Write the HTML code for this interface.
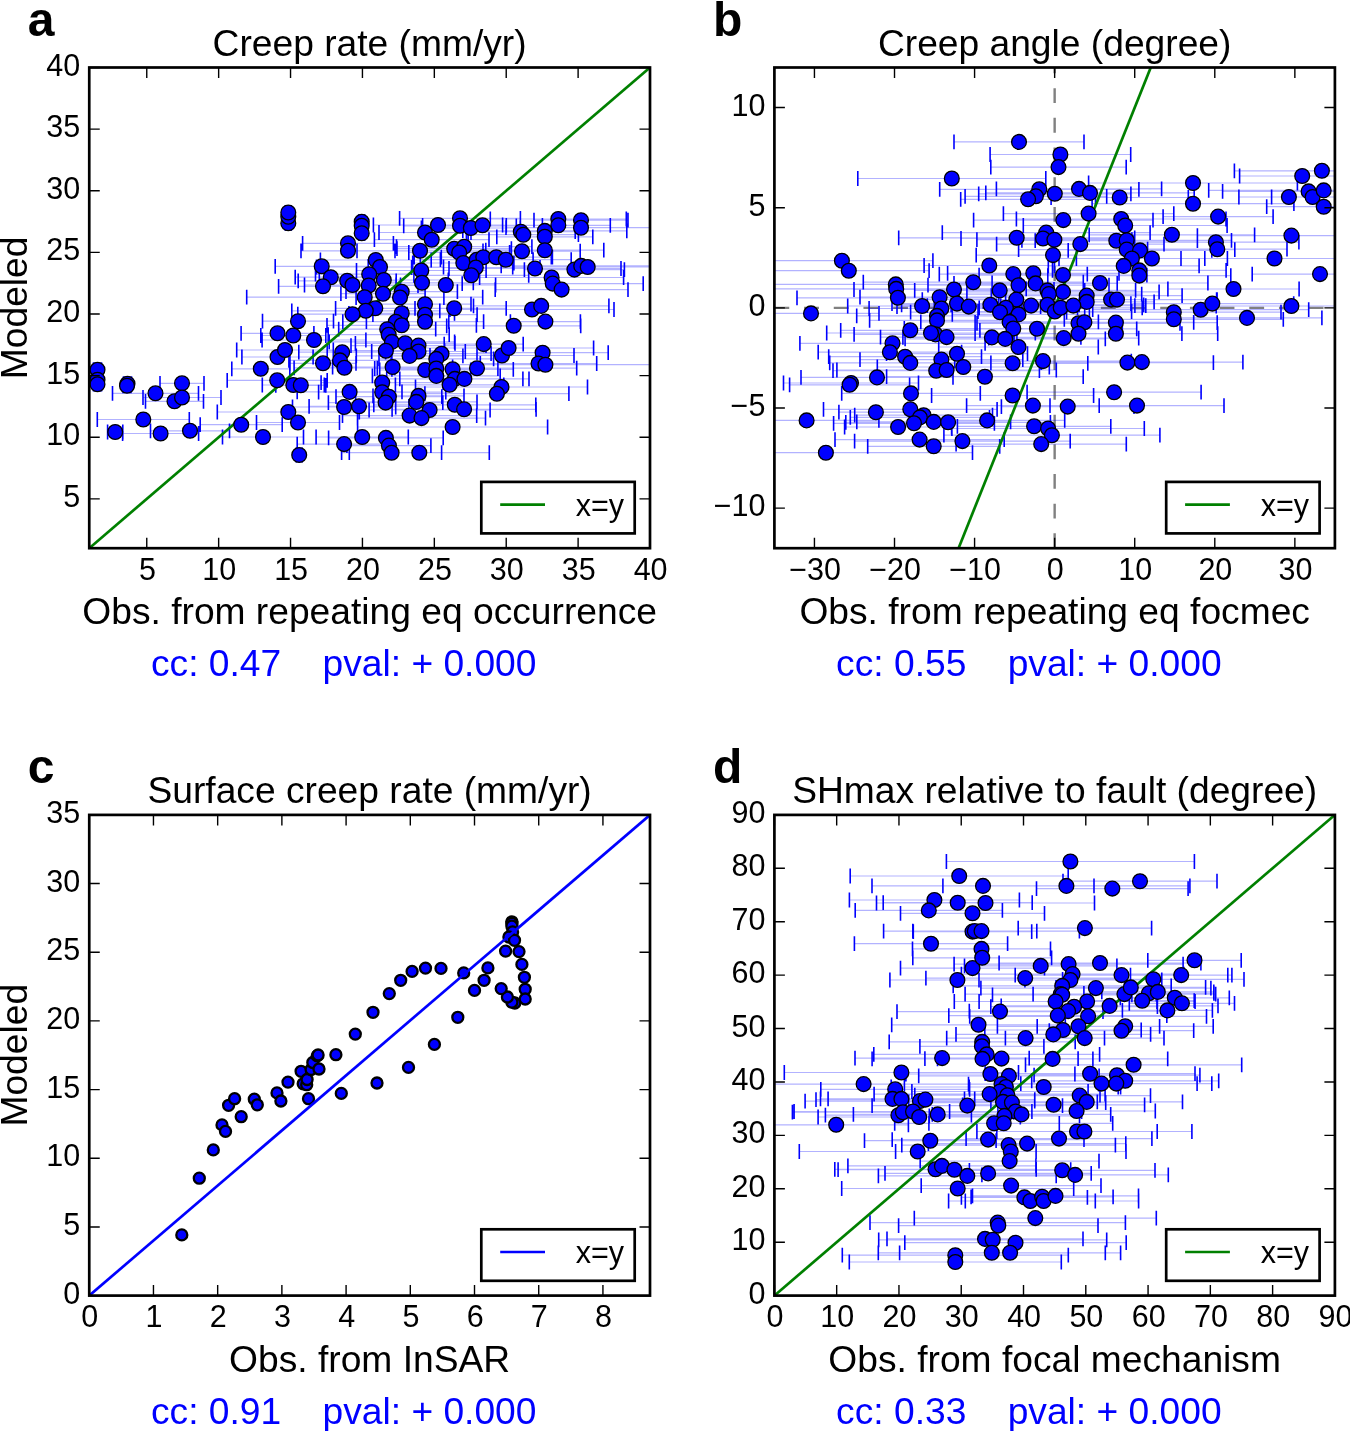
<!DOCTYPE html>
<html><head><meta charset="utf-8"><style>
html,body{margin:0;padding:0;background:#fff;}
svg{display:block;will-change:transform;}
text{font-family:"Liberation Sans", sans-serif;fill:#000;}
</style></head><body>
<svg width="1350" height="1431" viewBox="0 0 1350 1431">
<rect width="1350" height="1431" fill="#fff"/>
<clipPath id="clipa"><rect x="89.25" y="67.5" width="560.75" height="480.70000000000005"/></clipPath>
<g clip-path="url(#clipa)">
<path d="M93.5 369.7H101.5M93.5 379.7H101.5M93.5 384.2H101.5M123.5 383.7H131.5M123.0 385.8H131.0M112.5 393.3H198.5M160.0 383.3H204.0M145.5 401.3H203.5M143.0 397.5H221.0M97.3 419.5H189.3M107.6 432.0H122.8M122.6 433.5H198.6M150.5 430.8H229.5M200.2 424.7H282.2M222.5 437.0H303.5M296.2 455.0H302.2M217.3 412.0H359.3M256.5 422.5H339.5M231.8 368.8H289.8M227.2 380.3H327.2M262.3 385.0H324.3M275.8 385.3H325.8M241.9 357.0H313.1M236.7 350.0H333.3M285.3 223.3H291.3M285.3 216.7H291.3M285.3 212.5H291.3M262.5 321.2H333.5M241.1 333.3H313.9M260.8 335.5H325.8M358.7 221.7H364.7M358.7 225.8H364.7M358.7 233.3H364.7M399.6 218.3H520.4M403.7 225.8H516.3M373.4 225.0H502.6M379.0 232.5H471.0M374.4 239.7H489.0M421.4 228.0H520.2M422.6 225.3H542.4M466.4 231.7H575.2M468.2 234.7H578.4M302.6 243.3H393.4M301.0 250.8H395.0M357.0 250.8H483.0M397.0 248.7H511.4M396.5 246.7H531.9M408.8 252.5H509.6M463.8 251.2H580.2M275.2 266.3H368.2M295.2 277.2H366.4M278.6 286.3H367.4M320.4 260.0H431.2M316.5 267.0H443.5M315.5 274.2H422.9M298.2 280.8H396.2M304.5 285.0H400.5M319.4 285.5H418.0M319.3 280.0H448.3M340.9 293.7H425.1M246.7 297.2H482.7M356.5 270.5H486.1M370.7 282.8H473.3M396.0 285.0H495.6M412.7 263.0H513.9M420.3 259.7H533.1M414.2 257.2H552.4M441.3 257.2H551.3M440.4 259.7H571.2M411.6 267.5H540.0M413.9 275.3H528.7M449.0 268.5H621.0M346.0 291.7H457.4M356.1 297.5H443.9M379.0 304.2H471.0M402.2 308.3H506.2M335.6 308.3H415.0M291.8 310.8H439.8M297.8 314.2H407.2M348.9 313.3H454.5M372.9 314.7H477.1M366.4 321.7H483.6M342.8 321.7H448.8M327.0 325.3H476.4M338.7 329.2H435.7M328.2 334.7H449.2M446.7 325.8H580.7M450.0 309.5H614.0M262.1 340.0H365.9M490.3 219.0H626.3M506.3 225.3H610.3M534.0 220.2H628.0M506.0 227.7H656.0M462.8 230.9H626.8M496.8 236.8H592.8M485.8 250.2H603.8M479.6 277.5H623.6M462.2 283.6H643.2M495.2 289.6H628.0M524.4 269.6H624.4M501.2 265.9H661.2M512.7 267.0H662.7M473.5 305.9H608.9M510.4 321.6H580.4M290.0 363.3H356.0M298.8 352.2H385.6M288.9 360.4H391.1M294.1 367.8H394.7M329.2 341.9H454.6M327.2 350.7H444.6M355.4 343.3H455.0M351.0 345.6H486.0M371.7 351.5H465.3M356.3 355.9H462.9M332.6 367.0H452.6M391.9 353.7H491.1M379.0 358.9H493.6M379.7 370.0H470.7M374.7 368.5H497.9M372.4 375.9H500.2M391.9 369.3H513.3M386.7 378.9H522.9M395.4 384.8H503.8M399.8 378.9H529.0M377.3 368.2H576.7M444.2 344.1H523.2M430.0 355.5H574.0M415.5 387.0H587.5M424.9 393.7H568.9M297.2 391.9H402.0M292.5 407.0H395.7M309.1 406.3H408.9M321.1 382.6H443.3M318.6 392.2H445.8M336.0 396.7H441.8M328.4 402.6H442.8M373.0 395.9H464.0M355.6 401.9H477.0M369.1 410.0H490.1M342.5 415.6H476.7M357.5 418.1H485.5M373.8 404.8H535.8M392.1 409.3H536.1M357.6 427.0H547.6M316.1 437.0H408.3M297.2 444.1H391.0M328.6 437.9H443.2M346.9 445.6H430.9M341.6 452.7H441.6M349.3 452.7H489.3M423.6 348.0H593.6M477.0 352.7H608.2M480.3 363.5H596.7M435.4 364.7H655.4" stroke="#0000ff" stroke-opacity="0.3" stroke-width="1.2" fill="none"/>
<path d="M93.5 362.3v14.8M101.5 362.3v14.8M93.5 372.3v14.8M101.5 372.3v14.8M93.5 376.8v14.8M101.5 376.8v14.8M123.5 376.3v14.8M131.5 376.3v14.8M123.0 378.4v14.8M131.0 378.4v14.8M112.5 385.9v14.8M198.5 385.9v14.8M160.0 375.9v14.8M204.0 375.9v14.8M145.5 393.9v14.8M203.5 393.9v14.8M143.0 390.1v14.8M221.0 390.1v14.8M97.3 412.1v14.8M189.3 412.1v14.8M107.6 424.6v14.8M122.8 424.6v14.8M122.6 426.1v14.8M198.6 426.1v14.8M150.5 423.4v14.8M229.5 423.4v14.8M200.2 417.3v14.8M282.2 417.3v14.8M222.5 429.6v14.8M303.5 429.6v14.8M296.2 447.6v14.8M302.2 447.6v14.8M217.3 404.6v14.8M359.3 404.6v14.8M256.5 415.1v14.8M339.5 415.1v14.8M231.8 361.4v14.8M289.8 361.4v14.8M227.2 372.9v14.8M327.2 372.9v14.8M262.3 377.6v14.8M324.3 377.6v14.8M275.8 377.9v14.8M325.8 377.9v14.8M241.9 349.6v14.8M313.1 349.6v14.8M236.7 342.6v14.8M333.3 342.6v14.8M285.3 215.9v14.8M291.3 215.9v14.8M285.3 209.3v14.8M291.3 209.3v14.8M285.3 205.1v14.8M291.3 205.1v14.8M262.5 313.8v14.8M333.5 313.8v14.8M241.1 325.9v14.8M313.9 325.9v14.8M260.8 328.1v14.8M325.8 328.1v14.8M358.7 214.3v14.8M364.7 214.3v14.8M358.7 218.4v14.8M364.7 218.4v14.8M358.7 225.9v14.8M364.7 225.9v14.8M399.6 210.9v14.8M520.4 210.9v14.8M403.7 218.4v14.8M516.3 218.4v14.8M373.4 217.6v14.8M502.6 217.6v14.8M379.0 225.1v14.8M471.0 225.1v14.8M374.4 232.3v14.8M489.0 232.3v14.8M421.4 220.6v14.8M520.2 220.6v14.8M422.6 217.9v14.8M542.4 217.9v14.8M466.4 224.3v14.8M575.2 224.3v14.8M468.2 227.3v14.8M578.4 227.3v14.8M302.6 235.9v14.8M393.4 235.9v14.8M301.0 243.4v14.8M395.0 243.4v14.8M357.0 243.4v14.8M483.0 243.4v14.8M397.0 241.3v14.8M511.4 241.3v14.8M396.5 239.3v14.8M531.9 239.3v14.8M408.8 245.1v14.8M509.6 245.1v14.8M463.8 243.8v14.8M580.2 243.8v14.8M275.2 258.9v14.8M368.2 258.9v14.8M295.2 269.8v14.8M366.4 269.8v14.8M278.6 278.9v14.8M367.4 278.9v14.8M320.4 252.6v14.8M431.2 252.6v14.8M316.5 259.6v14.8M443.5 259.6v14.8M315.5 266.8v14.8M422.9 266.8v14.8M298.2 273.4v14.8M396.2 273.4v14.8M304.5 277.6v14.8M400.5 277.6v14.8M319.4 278.1v14.8M418.0 278.1v14.8M319.3 272.6v14.8M448.3 272.6v14.8M340.9 286.3v14.8M425.1 286.3v14.8M246.7 289.8v14.8M482.7 289.8v14.8M356.5 263.1v14.8M486.1 263.1v14.8M370.7 275.4v14.8M473.3 275.4v14.8M396.0 277.6v14.8M495.6 277.6v14.8M412.7 255.6v14.8M513.9 255.6v14.8M420.3 252.3v14.8M533.1 252.3v14.8M414.2 249.8v14.8M552.4 249.8v14.8M441.3 249.8v14.8M551.3 249.8v14.8M440.4 252.3v14.8M571.2 252.3v14.8M411.6 260.1v14.8M540.0 260.1v14.8M413.9 267.9v14.8M528.7 267.9v14.8M449.0 261.1v14.8M621.0 261.1v14.8M346.0 284.3v14.8M457.4 284.3v14.8M356.1 290.1v14.8M443.9 290.1v14.8M379.0 296.8v14.8M471.0 296.8v14.8M402.2 300.9v14.8M506.2 300.9v14.8M335.6 300.9v14.8M415.0 300.9v14.8M291.8 303.4v14.8M439.8 303.4v14.8M297.8 306.8v14.8M407.2 306.8v14.8M348.9 305.9v14.8M454.5 305.9v14.8M372.9 307.3v14.8M477.1 307.3v14.8M366.4 314.3v14.8M483.6 314.3v14.8M342.8 314.3v14.8M448.8 314.3v14.8M327.0 317.9v14.8M476.4 317.9v14.8M338.7 321.8v14.8M435.7 321.8v14.8M328.2 327.3v14.8M449.2 327.3v14.8M446.7 318.4v14.8M580.7 318.4v14.8M450.0 302.1v14.8M614.0 302.1v14.8M262.1 332.6v14.8M365.9 332.6v14.8M490.3 211.6v14.8M626.3 211.6v14.8M506.3 217.9v14.8M610.3 217.9v14.8M534.0 212.8v14.8M628.0 212.8v14.8M506.0 220.3v14.8M656.0 220.3v14.8M462.8 223.5v14.8M626.8 223.5v14.8M496.8 229.4v14.8M592.8 229.4v14.8M485.8 242.8v14.8M603.8 242.8v14.8M479.6 270.1v14.8M623.6 270.1v14.8M462.2 276.2v14.8M643.2 276.2v14.8M495.2 282.2v14.8M628.0 282.2v14.8M524.4 262.2v14.8M624.4 262.2v14.8M501.2 258.5v14.8M661.2 258.5v14.8M512.7 259.6v14.8M662.7 259.6v14.8M473.5 298.5v14.8M608.9 298.5v14.8M510.4 314.2v14.8M580.4 314.2v14.8M290.0 355.9v14.8M356.0 355.9v14.8M298.8 344.8v14.8M385.6 344.8v14.8M288.9 353.0v14.8M391.1 353.0v14.8M294.1 360.4v14.8M394.7 360.4v14.8M329.2 334.5v14.8M454.6 334.5v14.8M327.2 343.3v14.8M444.6 343.3v14.8M355.4 335.9v14.8M455.0 335.9v14.8M351.0 338.2v14.8M486.0 338.2v14.8M371.7 344.1v14.8M465.3 344.1v14.8M356.3 348.5v14.8M462.9 348.5v14.8M332.6 359.6v14.8M452.6 359.6v14.8M391.9 346.3v14.8M491.1 346.3v14.8M379.0 351.5v14.8M493.6 351.5v14.8M379.7 362.6v14.8M470.7 362.6v14.8M374.7 361.1v14.8M497.9 361.1v14.8M372.4 368.5v14.8M500.2 368.5v14.8M391.9 361.9v14.8M513.3 361.9v14.8M386.7 371.5v14.8M522.9 371.5v14.8M395.4 377.4v14.8M503.8 377.4v14.8M399.8 371.5v14.8M529.0 371.5v14.8M377.3 360.8v14.8M576.7 360.8v14.8M444.2 336.7v14.8M523.2 336.7v14.8M430.0 348.1v14.8M574.0 348.1v14.8M415.5 379.6v14.8M587.5 379.6v14.8M424.9 386.3v14.8M568.9 386.3v14.8M297.2 384.5v14.8M402.0 384.5v14.8M292.5 399.6v14.8M395.7 399.6v14.8M309.1 398.9v14.8M408.9 398.9v14.8M321.1 375.2v14.8M443.3 375.2v14.8M318.6 384.8v14.8M445.8 384.8v14.8M336.0 389.3v14.8M441.8 389.3v14.8M328.4 395.2v14.8M442.8 395.2v14.8M373.0 388.5v14.8M464.0 388.5v14.8M355.6 394.5v14.8M477.0 394.5v14.8M369.1 402.6v14.8M490.1 402.6v14.8M342.5 408.2v14.8M476.7 408.2v14.8M357.5 410.7v14.8M485.5 410.7v14.8M373.8 397.4v14.8M535.8 397.4v14.8M392.1 401.9v14.8M536.1 401.9v14.8M357.6 419.6v14.8M547.6 419.6v14.8M316.1 429.6v14.8M408.3 429.6v14.8M297.2 436.7v14.8M391.0 436.7v14.8M328.6 430.5v14.8M443.2 430.5v14.8M346.9 438.2v14.8M430.9 438.2v14.8M341.6 445.3v14.8M441.6 445.3v14.8M349.3 445.3v14.8M489.3 445.3v14.8M423.6 340.6v14.8M593.6 340.6v14.8M477.0 345.3v14.8M608.2 345.3v14.8M480.3 356.1v14.8M596.7 356.1v14.8M435.4 357.3v14.8M655.4 357.3v14.8" stroke="#0000ff" stroke-width="1.6" fill="none"/>
<path d="M89.25 548.20L650.00 67.50" stroke="#008000" stroke-width="2.7"/>
<g fill="#0000ff" stroke="#000" stroke-width="1.3"><circle cx="97.5" cy="369.7" r="7.4"/><circle cx="97.5" cy="379.7" r="7.4"/><circle cx="97.5" cy="384.2" r="7.4"/><circle cx="127.5" cy="383.7" r="7.4"/><circle cx="127" cy="385.8" r="7.4"/><circle cx="155.5" cy="393.3" r="7.4"/><circle cx="182" cy="383.3" r="7.4"/><circle cx="174.5" cy="401.3" r="7.4"/><circle cx="182" cy="397.5" r="7.4"/><circle cx="143.3" cy="419.5" r="7.4"/><circle cx="115.2" cy="432" r="7.4"/><circle cx="160.6" cy="433.5" r="7.4"/><circle cx="190" cy="430.8" r="7.4"/><circle cx="241.2" cy="424.7" r="7.4"/><circle cx="263" cy="437" r="7.4"/><circle cx="299.2" cy="455" r="7.4"/><circle cx="288.3" cy="412" r="7.4"/><circle cx="298" cy="422.5" r="7.4"/><circle cx="260.8" cy="368.8" r="7.4"/><circle cx="277.2" cy="380.3" r="7.4"/><circle cx="293.3" cy="385" r="7.4"/><circle cx="300.8" cy="385.3" r="7.4"/><circle cx="277.5" cy="357" r="7.4"/><circle cx="285" cy="350" r="7.4"/><circle cx="288.3" cy="223.3" r="7.4"/><circle cx="288.3" cy="216.7" r="7.4"/><circle cx="288.3" cy="212.5" r="7.4"/><circle cx="298" cy="321.2" r="7.4"/><circle cx="277.5" cy="333.3" r="7.4"/><circle cx="293.3" cy="335.5" r="7.4"/><circle cx="361.7" cy="221.7" r="7.4"/><circle cx="361.7" cy="225.8" r="7.4"/><circle cx="361.7" cy="233.3" r="7.4"/><circle cx="460" cy="218.3" r="7.4"/><circle cx="460" cy="225.8" r="7.4"/><circle cx="438" cy="225" r="7.4"/><circle cx="425" cy="232.5" r="7.4"/><circle cx="431.7" cy="239.7" r="7.4"/><circle cx="470.8" cy="228" r="7.4"/><circle cx="482.5" cy="225.3" r="7.4"/><circle cx="520.8" cy="231.7" r="7.4"/><circle cx="523.3" cy="234.7" r="7.4"/><circle cx="348" cy="243.3" r="7.4"/><circle cx="348" cy="250.8" r="7.4"/><circle cx="420" cy="250.8" r="7.4"/><circle cx="454.2" cy="248.7" r="7.4"/><circle cx="464.2" cy="246.7" r="7.4"/><circle cx="459.2" cy="252.5" r="7.4"/><circle cx="522" cy="251.2" r="7.4"/><circle cx="321.7" cy="266.3" r="7.4"/><circle cx="330.8" cy="277.2" r="7.4"/><circle cx="323" cy="286.3" r="7.4"/><circle cx="375.8" cy="260" r="7.4"/><circle cx="380" cy="267" r="7.4"/><circle cx="369.2" cy="274.2" r="7.4"/><circle cx="347.2" cy="280.8" r="7.4"/><circle cx="352.5" cy="285" r="7.4"/><circle cx="368.7" cy="285.5" r="7.4"/><circle cx="383.8" cy="280" r="7.4"/><circle cx="383" cy="293.7" r="7.4"/><circle cx="364.7" cy="297.2" r="7.4"/><circle cx="421.3" cy="270.5" r="7.4"/><circle cx="422" cy="282.8" r="7.4"/><circle cx="445.8" cy="285" r="7.4"/><circle cx="463.3" cy="263" r="7.4"/><circle cx="476.7" cy="259.7" r="7.4"/><circle cx="483.3" cy="257.2" r="7.4"/><circle cx="496.3" cy="257.2" r="7.4"/><circle cx="505.8" cy="259.7" r="7.4"/><circle cx="475.8" cy="267.5" r="7.4"/><circle cx="471.3" cy="275.3" r="7.4"/><circle cx="535" cy="268.5" r="7.4"/><circle cx="401.7" cy="291.7" r="7.4"/><circle cx="400" cy="297.5" r="7.4"/><circle cx="425" cy="304.2" r="7.4"/><circle cx="454.2" cy="308.3" r="7.4"/><circle cx="375.3" cy="308.3" r="7.4"/><circle cx="365.8" cy="310.8" r="7.4"/><circle cx="352.5" cy="314.2" r="7.4"/><circle cx="401.7" cy="313.3" r="7.4"/><circle cx="425" cy="314.7" r="7.4"/><circle cx="425" cy="321.7" r="7.4"/><circle cx="395.8" cy="321.7" r="7.4"/><circle cx="401.7" cy="325.3" r="7.4"/><circle cx="387.2" cy="329.2" r="7.4"/><circle cx="388.7" cy="334.7" r="7.4"/><circle cx="513.7" cy="325.8" r="7.4"/><circle cx="532" cy="309.5" r="7.4"/><circle cx="314" cy="340" r="7.4"/><circle cx="558.3" cy="219" r="7.4"/><circle cx="558.3" cy="225.3" r="7.4"/><circle cx="581" cy="220.2" r="7.4"/><circle cx="581" cy="227.7" r="7.4"/><circle cx="544.8" cy="230.9" r="7.4"/><circle cx="544.8" cy="236.8" r="7.4"/><circle cx="544.8" cy="250.2" r="7.4"/><circle cx="551.6" cy="277.5" r="7.4"/><circle cx="552.7" cy="283.6" r="7.4"/><circle cx="561.6" cy="289.6" r="7.4"/><circle cx="574.4" cy="269.6" r="7.4"/><circle cx="581.2" cy="265.9" r="7.4"/><circle cx="587.7" cy="267" r="7.4"/><circle cx="541.2" cy="305.9" r="7.4"/><circle cx="545.4" cy="321.6" r="7.4"/><circle cx="323" cy="363.3" r="7.4"/><circle cx="342.2" cy="352.2" r="7.4"/><circle cx="340" cy="360.4" r="7.4"/><circle cx="344.4" cy="367.8" r="7.4"/><circle cx="391.9" cy="341.9" r="7.4"/><circle cx="385.9" cy="350.7" r="7.4"/><circle cx="405.2" cy="343.3" r="7.4"/><circle cx="418.5" cy="345.6" r="7.4"/><circle cx="418.5" cy="351.5" r="7.4"/><circle cx="409.6" cy="355.9" r="7.4"/><circle cx="392.6" cy="367" r="7.4"/><circle cx="441.5" cy="353.7" r="7.4"/><circle cx="436.3" cy="358.9" r="7.4"/><circle cx="425.2" cy="370" r="7.4"/><circle cx="436.3" cy="368.5" r="7.4"/><circle cx="436.3" cy="375.9" r="7.4"/><circle cx="452.6" cy="369.3" r="7.4"/><circle cx="454.8" cy="378.9" r="7.4"/><circle cx="449.6" cy="384.8" r="7.4"/><circle cx="464.4" cy="378.9" r="7.4"/><circle cx="477" cy="368.2" r="7.4"/><circle cx="483.7" cy="344.1" r="7.4"/><circle cx="502" cy="355.5" r="7.4"/><circle cx="501.5" cy="387" r="7.4"/><circle cx="496.9" cy="393.7" r="7.4"/><circle cx="349.6" cy="391.9" r="7.4"/><circle cx="344.1" cy="407" r="7.4"/><circle cx="359" cy="406.3" r="7.4"/><circle cx="382.2" cy="382.6" r="7.4"/><circle cx="382.2" cy="392.2" r="7.4"/><circle cx="388.9" cy="396.7" r="7.4"/><circle cx="385.6" cy="402.6" r="7.4"/><circle cx="418.5" cy="395.9" r="7.4"/><circle cx="416.3" cy="401.9" r="7.4"/><circle cx="429.6" cy="410" r="7.4"/><circle cx="409.6" cy="415.6" r="7.4"/><circle cx="421.5" cy="418.1" r="7.4"/><circle cx="454.8" cy="404.8" r="7.4"/><circle cx="464.1" cy="409.3" r="7.4"/><circle cx="452.6" cy="427" r="7.4"/><circle cx="362.2" cy="437" r="7.4"/><circle cx="344.1" cy="444.1" r="7.4"/><circle cx="385.9" cy="437.9" r="7.4"/><circle cx="388.9" cy="445.6" r="7.4"/><circle cx="391.6" cy="452.7" r="7.4"/><circle cx="419.3" cy="452.7" r="7.4"/><circle cx="508.6" cy="348" r="7.4"/><circle cx="542.6" cy="352.7" r="7.4"/><circle cx="538.5" cy="363.5" r="7.4"/><circle cx="545.4" cy="364.7" r="7.4"/></g>
</g>
<path d="M146.76 548.20v-10.5M146.76 67.50v10.5" stroke="#000" stroke-width="1.4"/>
<text x="147.36" y="579.90" font-size="30.5" text-anchor="middle">5</text>
<path d="M218.65 548.20v-10.5M218.65 67.50v10.5" stroke="#000" stroke-width="1.4"/>
<text x="219.25" y="579.90" font-size="30.5" text-anchor="middle">10</text>
<path d="M290.54 548.20v-10.5M290.54 67.50v10.5" stroke="#000" stroke-width="1.4"/>
<text x="291.14" y="579.90" font-size="30.5" text-anchor="middle">15</text>
<path d="M362.44 548.20v-10.5M362.44 67.50v10.5" stroke="#000" stroke-width="1.4"/>
<text x="363.04" y="579.90" font-size="30.5" text-anchor="middle">20</text>
<path d="M434.33 548.20v-10.5M434.33 67.50v10.5" stroke="#000" stroke-width="1.4"/>
<text x="434.93" y="579.90" font-size="30.5" text-anchor="middle">25</text>
<path d="M506.22 548.20v-10.5M506.22 67.50v10.5" stroke="#000" stroke-width="1.4"/>
<text x="506.82" y="579.90" font-size="30.5" text-anchor="middle">30</text>
<path d="M578.11 548.20v-10.5M578.11 67.50v10.5" stroke="#000" stroke-width="1.4"/>
<text x="578.71" y="579.90" font-size="30.5" text-anchor="middle">35</text>
<path d="M650.00 548.20v-10.5M650.00 67.50v10.5" stroke="#000" stroke-width="1.4"/>
<text x="650.60" y="579.90" font-size="30.5" text-anchor="middle">40</text>
<path d="M89.25 498.90h10.5M650.00 498.90h-10.5" stroke="#000" stroke-width="1.4"/>
<text x="80.25" y="506.90" font-size="30.5" text-anchor="end">5</text>
<path d="M89.25 437.27h10.5M650.00 437.27h-10.5" stroke="#000" stroke-width="1.4"/>
<text x="80.25" y="445.27" font-size="30.5" text-anchor="end">10</text>
<path d="M89.25 375.64h10.5M650.00 375.64h-10.5" stroke="#000" stroke-width="1.4"/>
<text x="80.25" y="383.64" font-size="30.5" text-anchor="end">15</text>
<path d="M89.25 314.01h10.5M650.00 314.01h-10.5" stroke="#000" stroke-width="1.4"/>
<text x="80.25" y="322.01" font-size="30.5" text-anchor="end">20</text>
<path d="M89.25 252.38h10.5M650.00 252.38h-10.5" stroke="#000" stroke-width="1.4"/>
<text x="80.25" y="260.38" font-size="30.5" text-anchor="end">25</text>
<path d="M89.25 190.76h10.5M650.00 190.76h-10.5" stroke="#000" stroke-width="1.4"/>
<text x="80.25" y="198.76" font-size="30.5" text-anchor="end">30</text>
<path d="M89.25 129.13h10.5M650.00 129.13h-10.5" stroke="#000" stroke-width="1.4"/>
<text x="80.25" y="137.13" font-size="30.5" text-anchor="end">35</text>
<path d="M89.25 67.50h10.5M650.00 67.50h-10.5" stroke="#000" stroke-width="1.4"/>
<text x="80.25" y="75.50" font-size="30.5" text-anchor="end">40</text>
<text x="369.62" y="55.50" font-size="37.2" text-anchor="middle">Creep rate (mm/yr)</text>
<text x="369.62" y="624.20" font-size="37.2" text-anchor="middle">Obs. from repeating eq occurrence</text>
<text x="150.95" y="676.20" font-size="37.2" style="fill:#0000ff" xml:space="preserve">cc: 0.47    pval: + 0.000</text>
<text transform="translate(26.80 307.85) rotate(-90)" font-size="37.2" text-anchor="middle">Modeled</text>
<text x="27.75" y="35.70" font-size="48" font-weight="bold">a</text>
<rect x="89.25" y="67.50" width="560.75" height="480.70" fill="none" stroke="#000" stroke-width="2.7"/>
<rect x="481.30" y="481.90" width="153.40" height="51.50" fill="#fff" stroke="#000" stroke-width="2.7"/>
<path d="M500.20 504.60H545.00" stroke="#008000" stroke-width="2.6"/>
<text x="575.80" y="515.70" font-size="30.5">x=y</text>
<clipPath id="clipb"><rect x="774.4" y="67.5" width="560.5000000000001" height="480.70000000000005"/></clipPath>
<g clip-path="url(#clipb)">
<path d="M774.40 307.85H1334.90" stroke="#808080" stroke-width="2.4" stroke-dasharray="14.84 14.84"/>
<path d="M1054.65 548.20V67.50" stroke="#808080" stroke-width="2.4" stroke-dasharray="14.84 14.84"/>
<path d="M857.8 178.5H1045.8M750.9 260.7H932.9M768.5 270.7H929.1M770.8 284.4H1020.8M766.2 288.9H1026.2M797.0 297.8H998.8M860.0 297.2H1019.2M854.0 289.5H1054.0M863.3 282.2H1083.3M954.0 141.9H1084.0M990.1 154.5H1130.7M990.8 167.1H1126.2M939.7 189.3H1138.9M965.1 196.3H1106.7M960.7 199.3H1095.5M978.7 193.8H1130.9M996.4 188.9H1161.6M985.8 192.9H1194.2M1051.1 197.5H1188.3M1003.4 213.6H1173.8M973.6 220.1H1153.0M1016.4 219.0H1226.0M1023.3 225.5H1227.1M942.3 232.6H1150.1M961.0 238.5H1125.0M976.9 239.7H1131.9M898.7 237.8H1134.7M996.6 244.1H1164.0M1035.2 240.7H1197.4M1021.9 240.3H1231.5M1018.6 249.6H1234.8M1068.2 250.4H1211.8M1059.0 258.5H1204.8M1048.3 265.9H1199.1M1076.4 258.5H1227.4M1052.5 270.4H1226.1M1047.8 275.6H1230.8M976.2 255.1H1129.8M924.1 265.5H1054.5M979.1 275.1H1146.9M939.3 274.1H1087.3M947.6 273.3H1119.0M954.0 283.4H1117.2M928.0 285.2H1109.0M914.7 290.4H1084.7M992.1 283.0H1207.9M966.9 291.9H1159.1M959.2 290.4H1135.6M956.1 294.1H1141.7M991.3 295.6H1182.1M1019.3 301.9H1154.1M1005.6 299.6H1216.6M1016.9 299.6H1217.1M922.3 299.6H1110.3M1088.6 183.0H1297.4M1092.1 203.7H1293.9M1163.1 216.6H1273.1M1089.2 234.8H1254.6M1132.9 242.2H1298.9M1147.6 249.2H1287.0M1181.0 258.5H1368.0M1197.4 235.6H1385.4M1239.6 176.0H1364.8M1234.4 170.8H1409.4M1222.6 191.4H1394.6M1271.6 197.0H1353.6M1208.7 190.4H1438.7M1238.9 197.0H1338.9M1266.7 206.7H1380.7M1252.2 274.1H1387.8M1167.9 289.0H1299.1M743.0 313.4H879.0M847.7 306.0H996.5M869.1 308.5H1013.7M856.7 315.9H1017.3M869.6 320.4H1004.4M892.0 303.6H1022.0M897.0 306.6H1040.6M840.7 330.3H979.9M854.1 334.4H1016.9M880.5 337.1H1012.7M826.7 333.0H1035.3M799.9 343.3H985.1M818.2 352.2H961.6M828.7 356.7H981.5M829.7 362.9H990.9M860.0 359.6H1022.8M886.5 353.7H1027.5M833.0 370.7H1039.4M836.9 370.0H1056.3M877.3 367.0H1049.3M801.0 377.4H953.0M783.5 383.0H918.5M789.6 384.8H909.6M841.7 393.4H980.3M838.9 412.2H912.9M823.5 409.3H997.1M854.7 415.2H992.5M850.3 417.4H989.5M833.6 423.3H994.4M856.8 421.9H1010.6M845.8 422.3H1050.4M844.6 427.0H951.6M734.3 420.4H878.9M835.0 439.6H1004.2M867.7 446.3H999.7M854.6 441.1H1070.2M679.3 452.7H972.5M901.6 304.8H1079.2M934.3 307.8H1077.5M910.6 312.2H1089.4M952.3 314.4H1084.7M920.8 321.9H1098.4M904.3 328.5H1122.3M927.3 305.6H1134.9M951.1 304.8H1143.7M978.0 311.5H1131.6M979.2 307.8H1142.2M1000.8 305.6H1145.8M937.3 328.8H1136.7M902.9 337.4H1080.9M905.1 338.9H1105.3M938.7 347.0H1098.3M988.7 338.1H1138.7M977.0 323.3H1180.0M975.1 322.3H1193.7M975.1 333.7H1181.9M1014.6 322.6H1217.2M1014.1 333.7H1217.7M886.6 376.7H1083.2M937.4 363.3H1087.8M954.7 361.1H1131.3M1041.4 362.6H1213.4M1040.9 362.1H1242.9M931.6 395.5H1093.6M966.6 405.6H1099.2M1001.4 406.6H1134.0M1027.1 392.2H1201.1M1050.0 405.6H1224.0M909.5 420.4H1064.7M957.4 426.3H1110.8M951.9 428.5H1144.3M943.9 435.2H1159.9M956.1 444.1H1126.3M1066.6 312.2H1281.0M1064.3 319.3H1283.3M1092.7 309.7H1308.7M1130.9 303.6H1293.7M1172.1 317.9H1321.9M1216.2 306.0H1366.6" stroke="#0000ff" stroke-opacity="0.3" stroke-width="1.2" fill="none"/>
<path d="M857.8 171.1v14.8M1045.8 171.1v14.8M750.9 253.3v14.8M932.9 253.3v14.8M768.5 263.3v14.8M929.1 263.3v14.8M770.8 277.0v14.8M1020.8 277.0v14.8M766.2 281.5v14.8M1026.2 281.5v14.8M797.0 290.4v14.8M998.8 290.4v14.8M860.0 289.8v14.8M1019.2 289.8v14.8M854.0 282.1v14.8M1054.0 282.1v14.8M863.3 274.8v14.8M1083.3 274.8v14.8M954.0 134.5v14.8M1084.0 134.5v14.8M990.1 147.1v14.8M1130.7 147.1v14.8M990.8 159.7v14.8M1126.2 159.7v14.8M939.7 181.9v14.8M1138.9 181.9v14.8M965.1 188.9v14.8M1106.7 188.9v14.8M960.7 191.9v14.8M1095.5 191.9v14.8M978.7 186.4v14.8M1130.9 186.4v14.8M996.4 181.5v14.8M1161.6 181.5v14.8M985.8 185.5v14.8M1194.2 185.5v14.8M1051.1 190.1v14.8M1188.3 190.1v14.8M1003.4 206.2v14.8M1173.8 206.2v14.8M973.6 212.7v14.8M1153.0 212.7v14.8M1016.4 211.6v14.8M1226.0 211.6v14.8M1023.3 218.1v14.8M1227.1 218.1v14.8M942.3 225.2v14.8M1150.1 225.2v14.8M961.0 231.1v14.8M1125.0 231.1v14.8M976.9 232.3v14.8M1131.9 232.3v14.8M898.7 230.4v14.8M1134.7 230.4v14.8M996.6 236.7v14.8M1164.0 236.7v14.8M1035.2 233.3v14.8M1197.4 233.3v14.8M1021.9 232.9v14.8M1231.5 232.9v14.8M1018.6 242.2v14.8M1234.8 242.2v14.8M1068.2 243.0v14.8M1211.8 243.0v14.8M1059.0 251.1v14.8M1204.8 251.1v14.8M1048.3 258.5v14.8M1199.1 258.5v14.8M1076.4 251.1v14.8M1227.4 251.1v14.8M1052.5 263.0v14.8M1226.1 263.0v14.8M1047.8 268.2v14.8M1230.8 268.2v14.8M976.2 247.7v14.8M1129.8 247.7v14.8M924.1 258.1v14.8M1054.5 258.1v14.8M979.1 267.7v14.8M1146.9 267.7v14.8M939.3 266.7v14.8M1087.3 266.7v14.8M947.6 265.9v14.8M1119.0 265.9v14.8M954.0 276.0v14.8M1117.2 276.0v14.8M928.0 277.8v14.8M1109.0 277.8v14.8M914.7 283.0v14.8M1084.7 283.0v14.8M992.1 275.6v14.8M1207.9 275.6v14.8M966.9 284.5v14.8M1159.1 284.5v14.8M959.2 283.0v14.8M1135.6 283.0v14.8M956.1 286.7v14.8M1141.7 286.7v14.8M991.3 288.2v14.8M1182.1 288.2v14.8M1019.3 294.5v14.8M1154.1 294.5v14.8M1005.6 292.2v14.8M1216.6 292.2v14.8M1016.9 292.2v14.8M1217.1 292.2v14.8M922.3 292.2v14.8M1110.3 292.2v14.8M1088.6 175.6v14.8M1297.4 175.6v14.8M1092.1 196.3v14.8M1293.9 196.3v14.8M1163.1 209.2v14.8M1273.1 209.2v14.8M1089.2 227.4v14.8M1254.6 227.4v14.8M1132.9 234.8v14.8M1298.9 234.8v14.8M1147.6 241.8v14.8M1287.0 241.8v14.8M1181.0 251.1v14.8M1368.0 251.1v14.8M1197.4 228.2v14.8M1385.4 228.2v14.8M1239.6 168.6v14.8M1364.8 168.6v14.8M1234.4 163.4v14.8M1409.4 163.4v14.8M1222.6 184.0v14.8M1394.6 184.0v14.8M1271.6 189.6v14.8M1353.6 189.6v14.8M1208.7 183.0v14.8M1438.7 183.0v14.8M1238.9 189.6v14.8M1338.9 189.6v14.8M1266.7 199.3v14.8M1380.7 199.3v14.8M1252.2 266.7v14.8M1387.8 266.7v14.8M1167.9 281.6v14.8M1299.1 281.6v14.8M743.0 306.0v14.8M879.0 306.0v14.8M847.7 298.6v14.8M996.5 298.6v14.8M869.1 301.1v14.8M1013.7 301.1v14.8M856.7 308.5v14.8M1017.3 308.5v14.8M869.6 313.0v14.8M1004.4 313.0v14.8M892.0 296.2v14.8M1022.0 296.2v14.8M897.0 299.2v14.8M1040.6 299.2v14.8M840.7 322.9v14.8M979.9 322.9v14.8M854.1 327.0v14.8M1016.9 327.0v14.8M880.5 329.7v14.8M1012.7 329.7v14.8M826.7 325.6v14.8M1035.3 325.6v14.8M799.9 335.9v14.8M985.1 335.9v14.8M818.2 344.8v14.8M961.6 344.8v14.8M828.7 349.3v14.8M981.5 349.3v14.8M829.7 355.5v14.8M990.9 355.5v14.8M860.0 352.2v14.8M1022.8 352.2v14.8M886.5 346.3v14.8M1027.5 346.3v14.8M833.0 363.3v14.8M1039.4 363.3v14.8M836.9 362.6v14.8M1056.3 362.6v14.8M877.3 359.6v14.8M1049.3 359.6v14.8M801.0 370.0v14.8M953.0 370.0v14.8M783.5 375.6v14.8M918.5 375.6v14.8M789.6 377.4v14.8M909.6 377.4v14.8M841.7 386.0v14.8M980.3 386.0v14.8M838.9 404.8v14.8M912.9 404.8v14.8M823.5 401.9v14.8M997.1 401.9v14.8M854.7 407.8v14.8M992.5 407.8v14.8M850.3 410.0v14.8M989.5 410.0v14.8M833.6 415.9v14.8M994.4 415.9v14.8M856.8 414.5v14.8M1010.6 414.5v14.8M845.8 414.9v14.8M1050.4 414.9v14.8M844.6 419.6v14.8M951.6 419.6v14.8M734.3 413.0v14.8M878.9 413.0v14.8M835.0 432.2v14.8M1004.2 432.2v14.8M867.7 438.9v14.8M999.7 438.9v14.8M854.6 433.7v14.8M1070.2 433.7v14.8M679.3 445.3v14.8M972.5 445.3v14.8M901.6 297.4v14.8M1079.2 297.4v14.8M934.3 300.4v14.8M1077.5 300.4v14.8M910.6 304.8v14.8M1089.4 304.8v14.8M952.3 307.0v14.8M1084.7 307.0v14.8M920.8 314.5v14.8M1098.4 314.5v14.8M904.3 321.1v14.8M1122.3 321.1v14.8M927.3 298.2v14.8M1134.9 298.2v14.8M951.1 297.4v14.8M1143.7 297.4v14.8M978.0 304.1v14.8M1131.6 304.1v14.8M979.2 300.4v14.8M1142.2 300.4v14.8M1000.8 298.2v14.8M1145.8 298.2v14.8M937.3 321.4v14.8M1136.7 321.4v14.8M902.9 330.0v14.8M1080.9 330.0v14.8M905.1 331.5v14.8M1105.3 331.5v14.8M938.7 339.6v14.8M1098.3 339.6v14.8M988.7 330.7v14.8M1138.7 330.7v14.8M977.0 315.9v14.8M1180.0 315.9v14.8M975.1 314.9v14.8M1193.7 314.9v14.8M975.1 326.3v14.8M1181.9 326.3v14.8M1014.6 315.2v14.8M1217.2 315.2v14.8M1014.1 326.3v14.8M1217.7 326.3v14.8M886.6 369.3v14.8M1083.2 369.3v14.8M937.4 355.9v14.8M1087.8 355.9v14.8M954.7 353.7v14.8M1131.3 353.7v14.8M1041.4 355.2v14.8M1213.4 355.2v14.8M1040.9 354.7v14.8M1242.9 354.7v14.8M931.6 388.1v14.8M1093.6 388.1v14.8M966.6 398.2v14.8M1099.2 398.2v14.8M1001.4 399.2v14.8M1134.0 399.2v14.8M1027.1 384.8v14.8M1201.1 384.8v14.8M1050.0 398.2v14.8M1224.0 398.2v14.8M909.5 413.0v14.8M1064.7 413.0v14.8M957.4 418.9v14.8M1110.8 418.9v14.8M951.9 421.1v14.8M1144.3 421.1v14.8M943.9 427.8v14.8M1159.9 427.8v14.8M956.1 436.7v14.8M1126.3 436.7v14.8M1066.6 304.8v14.8M1281.0 304.8v14.8M1064.3 311.9v14.8M1283.3 311.9v14.8M1092.7 302.3v14.8M1308.7 302.3v14.8M1130.9 296.2v14.8M1293.7 296.2v14.8M1172.1 310.5v14.8M1321.9 310.5v14.8M1216.2 298.6v14.8M1366.6 298.6v14.8" stroke="#0000ff" stroke-width="1.6" fill="none"/>
<path d="M958.56 548.20L1150.74 67.50" stroke="#008000" stroke-width="2.7"/>
<g fill="#0000ff" stroke="#000" stroke-width="1.3"><circle cx="951.8" cy="178.5" r="7.4"/><circle cx="841.9" cy="260.7" r="7.4"/><circle cx="848.8" cy="270.7" r="7.4"/><circle cx="895.8" cy="284.4" r="7.4"/><circle cx="896.2" cy="288.9" r="7.4"/><circle cx="897.9" cy="297.8" r="7.4"/><circle cx="939.6" cy="297.2" r="7.4"/><circle cx="954" cy="289.5" r="7.4"/><circle cx="973.3" cy="282.2" r="7.4"/><circle cx="1019" cy="141.9" r="7.4"/><circle cx="1060.4" cy="154.5" r="7.4"/><circle cx="1058.5" cy="167.1" r="7.4"/><circle cx="1039.3" cy="189.3" r="7.4"/><circle cx="1035.9" cy="196.3" r="7.4"/><circle cx="1028.1" cy="199.3" r="7.4"/><circle cx="1054.8" cy="193.8" r="7.4"/><circle cx="1079" cy="188.9" r="7.4"/><circle cx="1090" cy="192.9" r="7.4"/><circle cx="1119.7" cy="197.5" r="7.4"/><circle cx="1088.6" cy="213.6" r="7.4"/><circle cx="1063.3" cy="220.1" r="7.4"/><circle cx="1121.2" cy="219" r="7.4"/><circle cx="1125.2" cy="225.5" r="7.4"/><circle cx="1046.2" cy="232.6" r="7.4"/><circle cx="1043" cy="238.5" r="7.4"/><circle cx="1054.4" cy="239.7" r="7.4"/><circle cx="1016.7" cy="237.8" r="7.4"/><circle cx="1080.3" cy="244.1" r="7.4"/><circle cx="1116.3" cy="240.7" r="7.4"/><circle cx="1126.7" cy="240.3" r="7.4"/><circle cx="1126.7" cy="249.6" r="7.4"/><circle cx="1140" cy="250.4" r="7.4"/><circle cx="1131.9" cy="258.5" r="7.4"/><circle cx="1123.7" cy="265.9" r="7.4"/><circle cx="1151.9" cy="258.5" r="7.4"/><circle cx="1139.3" cy="270.4" r="7.4"/><circle cx="1139.3" cy="275.6" r="7.4"/><circle cx="1053" cy="255.1" r="7.4"/><circle cx="989.3" cy="265.5" r="7.4"/><circle cx="1063" cy="275.1" r="7.4"/><circle cx="1013.3" cy="274.1" r="7.4"/><circle cx="1033.3" cy="273.3" r="7.4"/><circle cx="1035.6" cy="283.4" r="7.4"/><circle cx="1018.5" cy="285.2" r="7.4"/><circle cx="999.7" cy="290.4" r="7.4"/><circle cx="1100" cy="283" r="7.4"/><circle cx="1063" cy="291.9" r="7.4"/><circle cx="1047.4" cy="290.4" r="7.4"/><circle cx="1048.9" cy="294.1" r="7.4"/><circle cx="1086.7" cy="295.6" r="7.4"/><circle cx="1086.7" cy="301.9" r="7.4"/><circle cx="1111.1" cy="299.6" r="7.4"/><circle cx="1117" cy="299.6" r="7.4"/><circle cx="1016.3" cy="299.6" r="7.4"/><circle cx="1193" cy="183" r="7.4"/><circle cx="1193" cy="203.7" r="7.4"/><circle cx="1218.1" cy="216.6" r="7.4"/><circle cx="1171.9" cy="234.8" r="7.4"/><circle cx="1215.9" cy="242.2" r="7.4"/><circle cx="1217.3" cy="249.2" r="7.4"/><circle cx="1274.5" cy="258.5" r="7.4"/><circle cx="1291.4" cy="235.6" r="7.4"/><circle cx="1302.2" cy="176" r="7.4"/><circle cx="1321.9" cy="170.8" r="7.4"/><circle cx="1308.6" cy="191.4" r="7.4"/><circle cx="1312.6" cy="197" r="7.4"/><circle cx="1323.7" cy="190.4" r="7.4"/><circle cx="1288.9" cy="197" r="7.4"/><circle cx="1323.7" cy="206.7" r="7.4"/><circle cx="1320" cy="274.1" r="7.4"/><circle cx="1233.5" cy="289" r="7.4"/><circle cx="811" cy="313.4" r="7.4"/><circle cx="922.1" cy="306" r="7.4"/><circle cx="941.4" cy="308.5" r="7.4"/><circle cx="937" cy="315.9" r="7.4"/><circle cx="937" cy="320.4" r="7.4"/><circle cx="957" cy="303.6" r="7.4"/><circle cx="968.8" cy="306.6" r="7.4"/><circle cx="910.3" cy="330.3" r="7.4"/><circle cx="935.5" cy="334.4" r="7.4"/><circle cx="946.6" cy="337.1" r="7.4"/><circle cx="931" cy="333" r="7.4"/><circle cx="892.5" cy="343.3" r="7.4"/><circle cx="889.9" cy="352.2" r="7.4"/><circle cx="905.1" cy="356.7" r="7.4"/><circle cx="910.3" cy="362.9" r="7.4"/><circle cx="941.4" cy="359.6" r="7.4"/><circle cx="957" cy="353.7" r="7.4"/><circle cx="936.2" cy="370.7" r="7.4"/><circle cx="946.6" cy="370" r="7.4"/><circle cx="963.3" cy="367" r="7.4"/><circle cx="877" cy="377.4" r="7.4"/><circle cx="851" cy="383" r="7.4"/><circle cx="849.6" cy="384.8" r="7.4"/><circle cx="911" cy="393.4" r="7.4"/><circle cx="875.9" cy="412.2" r="7.4"/><circle cx="910.3" cy="409.3" r="7.4"/><circle cx="923.6" cy="415.2" r="7.4"/><circle cx="919.9" cy="417.4" r="7.4"/><circle cx="914" cy="423.3" r="7.4"/><circle cx="933.7" cy="421.9" r="7.4"/><circle cx="948.1" cy="422.3" r="7.4"/><circle cx="898.1" cy="427" r="7.4"/><circle cx="806.6" cy="420.4" r="7.4"/><circle cx="919.6" cy="439.6" r="7.4"/><circle cx="933.7" cy="446.3" r="7.4"/><circle cx="962.4" cy="441.1" r="7.4"/><circle cx="825.9" cy="452.7" r="7.4"/><circle cx="990.4" cy="304.8" r="7.4"/><circle cx="1005.9" cy="307.8" r="7.4"/><circle cx="1000" cy="312.2" r="7.4"/><circle cx="1018.5" cy="314.4" r="7.4"/><circle cx="1009.6" cy="321.9" r="7.4"/><circle cx="1013.3" cy="328.5" r="7.4"/><circle cx="1031.1" cy="305.6" r="7.4"/><circle cx="1047.4" cy="304.8" r="7.4"/><circle cx="1054.8" cy="311.5" r="7.4"/><circle cx="1060.7" cy="307.8" r="7.4"/><circle cx="1073.3" cy="305.6" r="7.4"/><circle cx="1037" cy="328.8" r="7.4"/><circle cx="991.9" cy="337.4" r="7.4"/><circle cx="1005.2" cy="338.9" r="7.4"/><circle cx="1018.5" cy="347" r="7.4"/><circle cx="1063.7" cy="338.1" r="7.4"/><circle cx="1078.5" cy="323.3" r="7.4"/><circle cx="1084.4" cy="322.3" r="7.4"/><circle cx="1078.5" cy="333.7" r="7.4"/><circle cx="1115.9" cy="322.6" r="7.4"/><circle cx="1115.9" cy="333.7" r="7.4"/><circle cx="984.9" cy="376.7" r="7.4"/><circle cx="1012.6" cy="363.3" r="7.4"/><circle cx="1043" cy="361.1" r="7.4"/><circle cx="1127.4" cy="362.6" r="7.4"/><circle cx="1141.9" cy="362.1" r="7.4"/><circle cx="1012.6" cy="395.5" r="7.4"/><circle cx="1032.9" cy="405.6" r="7.4"/><circle cx="1067.7" cy="406.6" r="7.4"/><circle cx="1114.1" cy="392.2" r="7.4"/><circle cx="1137" cy="405.6" r="7.4"/><circle cx="987.1" cy="420.4" r="7.4"/><circle cx="1034.1" cy="426.3" r="7.4"/><circle cx="1048.1" cy="428.5" r="7.4"/><circle cx="1051.9" cy="435.2" r="7.4"/><circle cx="1041.2" cy="444.1" r="7.4"/><circle cx="1173.8" cy="312.2" r="7.4"/><circle cx="1173.8" cy="319.3" r="7.4"/><circle cx="1200.7" cy="309.7" r="7.4"/><circle cx="1212.3" cy="303.6" r="7.4"/><circle cx="1247" cy="317.9" r="7.4"/><circle cx="1291.4" cy="306" r="7.4"/></g>
</g>
<path d="M814.44 548.20v-10.5M814.44 67.50v10.5" stroke="#000" stroke-width="1.4"/>
<text x="815.04" y="579.90" font-size="30.5" text-anchor="middle">−30</text>
<path d="M894.51 548.20v-10.5M894.51 67.50v10.5" stroke="#000" stroke-width="1.4"/>
<text x="895.11" y="579.90" font-size="30.5" text-anchor="middle">−20</text>
<path d="M974.58 548.20v-10.5M974.58 67.50v10.5" stroke="#000" stroke-width="1.4"/>
<text x="975.18" y="579.90" font-size="30.5" text-anchor="middle">−10</text>
<path d="M1054.65 548.20v-10.5M1054.65 67.50v10.5" stroke="#000" stroke-width="1.4"/>
<text x="1055.25" y="579.90" font-size="30.5" text-anchor="middle">0</text>
<path d="M1134.72 548.20v-10.5M1134.72 67.50v10.5" stroke="#000" stroke-width="1.4"/>
<text x="1135.32" y="579.90" font-size="30.5" text-anchor="middle">10</text>
<path d="M1214.79 548.20v-10.5M1214.79 67.50v10.5" stroke="#000" stroke-width="1.4"/>
<text x="1215.39" y="579.90" font-size="30.5" text-anchor="middle">20</text>
<path d="M1294.86 548.20v-10.5M1294.86 67.50v10.5" stroke="#000" stroke-width="1.4"/>
<text x="1295.46" y="579.90" font-size="30.5" text-anchor="middle">30</text>
<path d="M774.40 508.14h10.5M1334.90 508.14h-10.5" stroke="#000" stroke-width="1.4"/>
<text x="765.40" y="516.14" font-size="30.5" text-anchor="end">−10</text>
<path d="M774.40 408.00h10.5M1334.90 408.00h-10.5" stroke="#000" stroke-width="1.4"/>
<text x="765.40" y="416.00" font-size="30.5" text-anchor="end">−5</text>
<path d="M774.40 307.85h10.5M1334.90 307.85h-10.5" stroke="#000" stroke-width="1.4"/>
<text x="765.40" y="315.85" font-size="30.5" text-anchor="end">0</text>
<path d="M774.40 207.70h10.5M1334.90 207.70h-10.5" stroke="#000" stroke-width="1.4"/>
<text x="765.40" y="215.70" font-size="30.5" text-anchor="end">5</text>
<path d="M774.40 107.56h10.5M1334.90 107.56h-10.5" stroke="#000" stroke-width="1.4"/>
<text x="765.40" y="115.56" font-size="30.5" text-anchor="end">10</text>
<text x="1054.65" y="55.50" font-size="37.2" text-anchor="middle">Creep angle (degree)</text>
<text x="1054.65" y="624.20" font-size="37.2" text-anchor="middle">Obs. from repeating eq focmec</text>
<text x="836.10" y="676.20" font-size="37.2" style="fill:#0000ff" xml:space="preserve">cc: 0.55    pval: + 0.000</text>
<text x="712.90" y="35.70" font-size="48" font-weight="bold">b</text>
<rect x="774.40" y="67.50" width="560.50" height="480.70" fill="none" stroke="#000" stroke-width="2.7"/>
<rect x="1166.20" y="481.90" width="153.40" height="51.50" fill="#fff" stroke="#000" stroke-width="2.7"/>
<path d="M1185.10 504.60H1229.90" stroke="#008000" stroke-width="2.6"/>
<text x="1260.70" y="515.70" font-size="30.5">x=y</text>
<clipPath id="clipc"><rect x="89.25" y="814.9" width="560.75" height="480.69999999999993"/></clipPath>
<g clip-path="url(#clipc)">
<g fill="#0000ff" stroke="#000" stroke-width="2.3"><circle cx="181.8" cy="1234.9" r="5.5"/><circle cx="199.3" cy="1178.2" r="5.5"/><circle cx="213.3" cy="1149.9" r="5.5"/><circle cx="222" cy="1124.9" r="5.5"/><circle cx="225.5" cy="1131.4" r="5.5"/><circle cx="228.6" cy="1105.3" r="5.5"/><circle cx="234.6" cy="1098.7" r="5.5"/><circle cx="241.2" cy="1116.7" r="5.5"/><circle cx="254.3" cy="1099.2" r="5.5"/><circle cx="257.3" cy="1104.8" r="5.5"/><circle cx="277" cy="1092.9" r="5.5"/><circle cx="280.9" cy="1101" r="5.5"/><circle cx="288" cy="1082.1" r="5.5"/><circle cx="301.1" cy="1071.3" r="5.5"/><circle cx="303.2" cy="1083.8" r="5.5"/><circle cx="306.7" cy="1084.7" r="5.5"/><circle cx="307.1" cy="1079.5" r="5.5"/><circle cx="311.1" cy="1069.5" r="5.5"/><circle cx="312.8" cy="1062.5" r="5.5"/><circle cx="317.2" cy="1055.9" r="5.5"/><circle cx="318.1" cy="1055" r="5.5"/><circle cx="319" cy="1069" r="5.5"/><circle cx="308.5" cy="1098.7" r="5.5"/><circle cx="335.9" cy="1054.7" r="5.5"/><circle cx="341.3" cy="1093.4" r="5.5"/><circle cx="355.3" cy="1034.1" r="5.5"/><circle cx="377" cy="1083" r="5.5"/><circle cx="408.5" cy="1067.4" r="5.5"/><circle cx="434.4" cy="1044.4" r="5.5"/><circle cx="457.8" cy="1017.3" r="5.5"/><circle cx="373" cy="1012.3" r="5.5"/><circle cx="389.3" cy="993.6" r="5.5"/><circle cx="400.7" cy="980.3" r="5.5"/><circle cx="412.1" cy="971.4" r="5.5"/><circle cx="425.5" cy="968.1" r="5.5"/><circle cx="441" cy="968.4" r="5.5"/><circle cx="463.7" cy="972.9" r="5.5"/><circle cx="474.5" cy="990.4" r="5.5"/><circle cx="484.1" cy="980.3" r="5.5"/><circle cx="487.9" cy="967.9" r="5.5"/><circle cx="511.9" cy="921.8" r="5.5"/><circle cx="511.9" cy="923.3" r="5.5"/><circle cx="511.9" cy="926.2" r="5.5"/><circle cx="512.6" cy="931.9" r="5.5"/><circle cx="508.9" cy="937" r="5.5"/><circle cx="514.5" cy="940.3" r="5.5"/><circle cx="505.6" cy="951.1" r="5.5"/><circle cx="519" cy="951.6" r="5.5"/><circle cx="521.9" cy="964.4" r="5.5"/><circle cx="524.4" cy="977.3" r="5.5"/><circle cx="525.2" cy="989.3" r="5.5"/><circle cx="525.2" cy="999" r="5.5"/><circle cx="514.8" cy="1003" r="5.5"/><circle cx="511.9" cy="1002.2" r="5.5"/><circle cx="507.4" cy="997" r="5.5"/><circle cx="501.2" cy="988.6" r="5.5"/></g>
<path d="M89.25 1295.60L650.00 814.90" stroke="#0000ff" stroke-width="2.7"/>
</g>
<path d="M89.25 1295.60v-10.5M89.25 814.90v10.5" stroke="#000" stroke-width="1.4"/>
<text x="89.85" y="1327.30" font-size="30.5" text-anchor="middle">0</text>
<path d="M153.46 1295.60v-10.5M153.46 814.90v10.5" stroke="#000" stroke-width="1.4"/>
<text x="154.06" y="1327.30" font-size="30.5" text-anchor="middle">1</text>
<path d="M217.67 1295.60v-10.5M217.67 814.90v10.5" stroke="#000" stroke-width="1.4"/>
<text x="218.27" y="1327.30" font-size="30.5" text-anchor="middle">2</text>
<path d="M281.88 1295.60v-10.5M281.88 814.90v10.5" stroke="#000" stroke-width="1.4"/>
<text x="282.48" y="1327.30" font-size="30.5" text-anchor="middle">3</text>
<path d="M346.09 1295.60v-10.5M346.09 814.90v10.5" stroke="#000" stroke-width="1.4"/>
<text x="346.69" y="1327.30" font-size="30.5" text-anchor="middle">4</text>
<path d="M410.30 1295.60v-10.5M410.30 814.90v10.5" stroke="#000" stroke-width="1.4"/>
<text x="410.90" y="1327.30" font-size="30.5" text-anchor="middle">5</text>
<path d="M474.51 1295.60v-10.5M474.51 814.90v10.5" stroke="#000" stroke-width="1.4"/>
<text x="475.11" y="1327.30" font-size="30.5" text-anchor="middle">6</text>
<path d="M538.72 1295.60v-10.5M538.72 814.90v10.5" stroke="#000" stroke-width="1.4"/>
<text x="539.32" y="1327.30" font-size="30.5" text-anchor="middle">7</text>
<path d="M602.93 1295.60v-10.5M602.93 814.90v10.5" stroke="#000" stroke-width="1.4"/>
<text x="603.53" y="1327.30" font-size="30.5" text-anchor="middle">8</text>
<path d="M89.25 1295.60h10.5M650.00 1295.60h-10.5" stroke="#000" stroke-width="1.4"/>
<text x="80.25" y="1303.60" font-size="30.5" text-anchor="end">0</text>
<path d="M89.25 1226.93h10.5M650.00 1226.93h-10.5" stroke="#000" stroke-width="1.4"/>
<text x="80.25" y="1234.93" font-size="30.5" text-anchor="end">5</text>
<path d="M89.25 1158.26h10.5M650.00 1158.26h-10.5" stroke="#000" stroke-width="1.4"/>
<text x="80.25" y="1166.26" font-size="30.5" text-anchor="end">10</text>
<path d="M89.25 1089.59h10.5M650.00 1089.59h-10.5" stroke="#000" stroke-width="1.4"/>
<text x="80.25" y="1097.59" font-size="30.5" text-anchor="end">15</text>
<path d="M89.25 1020.91h10.5M650.00 1020.91h-10.5" stroke="#000" stroke-width="1.4"/>
<text x="80.25" y="1028.91" font-size="30.5" text-anchor="end">20</text>
<path d="M89.25 952.24h10.5M650.00 952.24h-10.5" stroke="#000" stroke-width="1.4"/>
<text x="80.25" y="960.24" font-size="30.5" text-anchor="end">25</text>
<path d="M89.25 883.57h10.5M650.00 883.57h-10.5" stroke="#000" stroke-width="1.4"/>
<text x="80.25" y="891.57" font-size="30.5" text-anchor="end">30</text>
<path d="M89.25 814.90h10.5M650.00 814.90h-10.5" stroke="#000" stroke-width="1.4"/>
<text x="80.25" y="822.90" font-size="30.5" text-anchor="end">35</text>
<text x="369.62" y="802.90" font-size="37.2" text-anchor="middle">Surface creep rate (mm/yr)</text>
<text x="369.62" y="1371.60" font-size="37.2" text-anchor="middle">Obs. from InSAR</text>
<text x="150.95" y="1423.60" font-size="37.2" style="fill:#0000ff" xml:space="preserve">cc: 0.91    pval: + 0.000</text>
<text transform="translate(26.80 1055.25) rotate(-90)" font-size="37.2" text-anchor="middle">Modeled</text>
<text x="27.75" y="783.10" font-size="48" font-weight="bold">c</text>
<rect x="89.25" y="814.90" width="560.75" height="480.70" fill="none" stroke="#000" stroke-width="2.7"/>
<rect x="481.30" y="1229.30" width="153.40" height="51.50" fill="#fff" stroke="#000" stroke-width="2.7"/>
<path d="M500.20 1252.00H545.00" stroke="#0000ff" stroke-width="2.6"/>
<text x="575.80" y="1263.10" font-size="30.5">x=y</text>
<clipPath id="clipd"><rect x="774.4" y="814.9" width="560.5000000000001" height="480.69999999999993"/></clipPath>
<g clip-path="url(#clipd)">
<path d="M850.2 876.0H1068.2M849.4 900.0H1019.4M855.2 910.4H1002.4M883.2 902.7H1032.2M900.5 913.3H1044.5M913.3 931.6H1031.7M854.4 943.7H1007.6M900.5 968.1H1044.5M889.9 980.0H1024.9M872.0 885.9H1094.0M876.5 903.0H1094.5M912.8 931.1H1036.8M883.6 931.1H1079.4M912.5 948.9H1050.5M912.8 957.8H1051.6M946.4 861.5H1194.4M942.9 885.9H1189.9M1036.5 888.6H1188.1M1063.0 881.2H1217.0M1018.2 928.1H1151.6M964.5 965.9H1116.9M925.9 978.1H1124.5M954.1 964.1H1183.1M961.4 974.1H1183.8M979.0 980.0H1161.8M999.1 963.0H1200.9M953.2 985.9H1171.2M965.1 994.1H1156.3M992.5 994.8H1131.9M954.3 1001.5H1156.9M980.9 988.1H1210.9M979.1 1001.5H1195.1M1015.2 975.1H1227.8M1033.1 994.1H1215.7M1056.0 987.4H1205.6M1062.6 979.3H1244.0M1083.9 993.3H1213.9M1101.8 991.9H1213.8M1090.2 1000.7H1194.2M1001.2 1005.9H1218.0M990.8 1006.7H1157.4M969.3 1011.1H1166.9M948.8 1015.6H1166.8M969.7 1016.3H1206.5M897.0 1011.6H1103.0M1147.8 960.3H1241.2M1130.5 975.1H1231.9M1120.3 997.8H1229.3M1129.3 1003.3H1234.5M1122.4 1010.4H1212.4M891.7 1024.8H1065.3M855.0 1058.1H1029.2M784.3 1072.5H1018.5M758.7 1084.1H968.5M820.8 1089.3H969.6M820.5 1098.9H964.5M828.1 1098.9H974.7M805.1 1101.1H1034.7M816.0 1099.6H1034.8M825.4 1115.2H971.4M792.4 1112.2H1013.4M794.1 1111.5H1031.9M818.1 1117.0H1020.3M853.4 1114.4H1022.0M872.1 1105.6H1062.5M764.0 1124.8H908.4M864.5 1140.7H996.1M799.3 1151.5H1036.1M834.8 1169.3H1036.2M847.9 1165.9H1035.9M838.1 1169.7H1070.7M878.4 1175.9H1056.2M889.2 1041.9H1075.2M919.9 1046.3H1043.9M873.8 1054.4H1099.6M872.1 1058.9H1092.9M924.9 1058.6H1078.1M946.7 1038.1H1104.5M997.4 1026.3H1159.6M984.8 1030.0H1141.2M956.0 1034.4H1150.6M1005.4 1038.1H1164.0M1037.2 1026.3H1213.2M1049.3 1030.7H1193.7M937.5 1058.9H1167.7M905.9 1074.0H1074.9M918.7 1075.9H1099.1M904.4 1084.1H1098.6M891.2 1087.0H1120.6M911.9 1091.5H1088.1M874.1 1094.1H1105.1M914.8 1095.2H1100.0M908.7 1101.9H1097.3M918.1 1102.6H1105.7M949.6 1111.5H1081.6M932.3 1114.4H1110.7M929.3 1115.9H1079.5M928.9 1123.3H1059.3M894.7 1123.3H1112.7M969.2 1087.0H1118.2M962.6 1104.8H1144.6M985.2 1073.7H1195.0M1005.9 1083.6H1197.1M1034.1 1075.2H1199.9M1031.7 1080.8H1218.7M1020.8 1083.6H1211.8M1025.5 1064.8H1241.7M1008.9 1095.6H1150.5M990.9 1101.9H1182.5M997.9 1111.0H1155.3M996.8 1131.5H1157.2M976.9 1131.5H1191.9M966.1 1138.6H1151.9M892.2 1139.6H1084.0M901.8 1145.1H1115.4M895.6 1151.5H1126.0M920.2 1161.1H1099.0M928.4 1143.6H1125.8M969.4 1170.3H1155.0M981.9 1174.9H1168.3M885.0 1173.4H1091.2M921.2 1185.6H1101.0M841.7 1188.5H1073.7M961.4 1197.4H1087.4M965.3 1201.0H1095.3M971.1 1196.8H1113.1M948.6 1201.0H1138.6M972.5 1195.9H1138.5M914.3 1218.1H1156.3M870.0 1222.6H1125.4M898.6 1225.6H1098.0M887.0 1238.9H1083.0M878.7 1239.8H1106.7M904.8 1242.7H1126.2M878.3 1252.8H1105.3M899.6 1252.8H1120.6M842.3 1255.2H1068.3M849.3 1262.0H1061.3" stroke="#0000ff" stroke-opacity="0.3" stroke-width="1.2" fill="none"/>
<path d="M850.2 868.6v14.8M1068.2 868.6v14.8M849.4 892.6v14.8M1019.4 892.6v14.8M855.2 903.0v14.8M1002.4 903.0v14.8M883.2 895.3v14.8M1032.2 895.3v14.8M900.5 905.9v14.8M1044.5 905.9v14.8M913.3 924.2v14.8M1031.7 924.2v14.8M854.4 936.3v14.8M1007.6 936.3v14.8M900.5 960.7v14.8M1044.5 960.7v14.8M889.9 972.6v14.8M1024.9 972.6v14.8M872.0 878.5v14.8M1094.0 878.5v14.8M876.5 895.6v14.8M1094.5 895.6v14.8M912.8 923.7v14.8M1036.8 923.7v14.8M883.6 923.7v14.8M1079.4 923.7v14.8M912.5 941.5v14.8M1050.5 941.5v14.8M912.8 950.4v14.8M1051.6 950.4v14.8M946.4 854.1v14.8M1194.4 854.1v14.8M942.9 878.5v14.8M1189.9 878.5v14.8M1036.5 881.2v14.8M1188.1 881.2v14.8M1063.0 873.8v14.8M1217.0 873.8v14.8M1018.2 920.7v14.8M1151.6 920.7v14.8M964.5 958.5v14.8M1116.9 958.5v14.8M925.9 970.7v14.8M1124.5 970.7v14.8M954.1 956.7v14.8M1183.1 956.7v14.8M961.4 966.7v14.8M1183.8 966.7v14.8M979.0 972.6v14.8M1161.8 972.6v14.8M999.1 955.6v14.8M1200.9 955.6v14.8M953.2 978.5v14.8M1171.2 978.5v14.8M965.1 986.7v14.8M1156.3 986.7v14.8M992.5 987.4v14.8M1131.9 987.4v14.8M954.3 994.1v14.8M1156.9 994.1v14.8M980.9 980.7v14.8M1210.9 980.7v14.8M979.1 994.1v14.8M1195.1 994.1v14.8M1015.2 967.7v14.8M1227.8 967.7v14.8M1033.1 986.7v14.8M1215.7 986.7v14.8M1056.0 980.0v14.8M1205.6 980.0v14.8M1062.6 971.9v14.8M1244.0 971.9v14.8M1083.9 985.9v14.8M1213.9 985.9v14.8M1101.8 984.5v14.8M1213.8 984.5v14.8M1090.2 993.3v14.8M1194.2 993.3v14.8M1001.2 998.5v14.8M1218.0 998.5v14.8M990.8 999.3v14.8M1157.4 999.3v14.8M969.3 1003.7v14.8M1166.9 1003.7v14.8M948.8 1008.2v14.8M1166.8 1008.2v14.8M969.7 1008.9v14.8M1206.5 1008.9v14.8M897.0 1004.2v14.8M1103.0 1004.2v14.8M1147.8 952.9v14.8M1241.2 952.9v14.8M1130.5 967.7v14.8M1231.9 967.7v14.8M1120.3 990.4v14.8M1229.3 990.4v14.8M1129.3 995.9v14.8M1234.5 995.9v14.8M1122.4 1003.0v14.8M1212.4 1003.0v14.8M891.7 1017.4v14.8M1065.3 1017.4v14.8M855.0 1050.7v14.8M1029.2 1050.7v14.8M784.3 1065.1v14.8M1018.5 1065.1v14.8M758.7 1076.7v14.8M968.5 1076.7v14.8M820.8 1081.9v14.8M969.6 1081.9v14.8M820.5 1091.5v14.8M964.5 1091.5v14.8M828.1 1091.5v14.8M974.7 1091.5v14.8M805.1 1093.7v14.8M1034.7 1093.7v14.8M816.0 1092.2v14.8M1034.8 1092.2v14.8M825.4 1107.8v14.8M971.4 1107.8v14.8M792.4 1104.8v14.8M1013.4 1104.8v14.8M794.1 1104.1v14.8M1031.9 1104.1v14.8M818.1 1109.6v14.8M1020.3 1109.6v14.8M853.4 1107.0v14.8M1022.0 1107.0v14.8M872.1 1098.2v14.8M1062.5 1098.2v14.8M764.0 1117.4v14.8M908.4 1117.4v14.8M864.5 1133.3v14.8M996.1 1133.3v14.8M799.3 1144.1v14.8M1036.1 1144.1v14.8M834.8 1161.9v14.8M1036.2 1161.9v14.8M847.9 1158.5v14.8M1035.9 1158.5v14.8M838.1 1162.3v14.8M1070.7 1162.3v14.8M878.4 1168.5v14.8M1056.2 1168.5v14.8M889.2 1034.5v14.8M1075.2 1034.5v14.8M919.9 1038.9v14.8M1043.9 1038.9v14.8M873.8 1047.0v14.8M1099.6 1047.0v14.8M872.1 1051.5v14.8M1092.9 1051.5v14.8M924.9 1051.2v14.8M1078.1 1051.2v14.8M946.7 1030.7v14.8M1104.5 1030.7v14.8M997.4 1018.9v14.8M1159.6 1018.9v14.8M984.8 1022.6v14.8M1141.2 1022.6v14.8M956.0 1027.0v14.8M1150.6 1027.0v14.8M1005.4 1030.7v14.8M1164.0 1030.7v14.8M1037.2 1018.9v14.8M1213.2 1018.9v14.8M1049.3 1023.3v14.8M1193.7 1023.3v14.8M937.5 1051.5v14.8M1167.7 1051.5v14.8M905.9 1066.6v14.8M1074.9 1066.6v14.8M918.7 1068.5v14.8M1099.1 1068.5v14.8M904.4 1076.7v14.8M1098.6 1076.7v14.8M891.2 1079.6v14.8M1120.6 1079.6v14.8M911.9 1084.1v14.8M1088.1 1084.1v14.8M874.1 1086.7v14.8M1105.1 1086.7v14.8M914.8 1087.8v14.8M1100.0 1087.8v14.8M908.7 1094.5v14.8M1097.3 1094.5v14.8M918.1 1095.2v14.8M1105.7 1095.2v14.8M949.6 1104.1v14.8M1081.6 1104.1v14.8M932.3 1107.0v14.8M1110.7 1107.0v14.8M929.3 1108.5v14.8M1079.5 1108.5v14.8M928.9 1115.9v14.8M1059.3 1115.9v14.8M894.7 1115.9v14.8M1112.7 1115.9v14.8M969.2 1079.6v14.8M1118.2 1079.6v14.8M962.6 1097.4v14.8M1144.6 1097.4v14.8M985.2 1066.3v14.8M1195.0 1066.3v14.8M1005.9 1076.2v14.8M1197.1 1076.2v14.8M1034.1 1067.8v14.8M1199.9 1067.8v14.8M1031.7 1073.4v14.8M1218.7 1073.4v14.8M1020.8 1076.2v14.8M1211.8 1076.2v14.8M1025.5 1057.4v14.8M1241.7 1057.4v14.8M1008.9 1088.2v14.8M1150.5 1088.2v14.8M990.9 1094.5v14.8M1182.5 1094.5v14.8M997.9 1103.6v14.8M1155.3 1103.6v14.8M996.8 1124.1v14.8M1157.2 1124.1v14.8M976.9 1124.1v14.8M1191.9 1124.1v14.8M966.1 1131.2v14.8M1151.9 1131.2v14.8M892.2 1132.2v14.8M1084.0 1132.2v14.8M901.8 1137.7v14.8M1115.4 1137.7v14.8M895.6 1144.1v14.8M1126.0 1144.1v14.8M920.2 1153.7v14.8M1099.0 1153.7v14.8M928.4 1136.2v14.8M1125.8 1136.2v14.8M969.4 1162.9v14.8M1155.0 1162.9v14.8M981.9 1167.5v14.8M1168.3 1167.5v14.8M885.0 1166.0v14.8M1091.2 1166.0v14.8M921.2 1178.2v14.8M1101.0 1178.2v14.8M841.7 1181.1v14.8M1073.7 1181.1v14.8M961.4 1190.0v14.8M1087.4 1190.0v14.8M965.3 1193.6v14.8M1095.3 1193.6v14.8M971.1 1189.4v14.8M1113.1 1189.4v14.8M948.6 1193.6v14.8M1138.6 1193.6v14.8M972.5 1188.5v14.8M1138.5 1188.5v14.8M914.3 1210.7v14.8M1156.3 1210.7v14.8M870.0 1215.2v14.8M1125.4 1215.2v14.8M898.6 1218.2v14.8M1098.0 1218.2v14.8M887.0 1231.5v14.8M1083.0 1231.5v14.8M878.7 1232.4v14.8M1106.7 1232.4v14.8M904.8 1235.3v14.8M1126.2 1235.3v14.8M878.3 1245.4v14.8M1105.3 1245.4v14.8M899.6 1245.4v14.8M1120.6 1245.4v14.8M842.3 1247.8v14.8M1068.3 1247.8v14.8M849.3 1254.6v14.8M1061.3 1254.6v14.8" stroke="#0000ff" stroke-width="1.6" fill="none"/>
<path d="M774.40 1295.60L1334.90 814.90" stroke="#008000" stroke-width="2.7"/>
<g fill="#0000ff" stroke="#000" stroke-width="1.3"><circle cx="959.2" cy="876" r="7.4"/><circle cx="934.4" cy="900" r="7.4"/><circle cx="928.8" cy="910.4" r="7.4"/><circle cx="957.7" cy="902.7" r="7.4"/><circle cx="972.5" cy="913.3" r="7.4"/><circle cx="972.5" cy="931.6" r="7.4"/><circle cx="931" cy="943.7" r="7.4"/><circle cx="972.5" cy="968.1" r="7.4"/><circle cx="957.4" cy="980" r="7.4"/><circle cx="983" cy="885.9" r="7.4"/><circle cx="985.5" cy="903" r="7.4"/><circle cx="974.8" cy="931.1" r="7.4"/><circle cx="981.5" cy="931.1" r="7.4"/><circle cx="981.5" cy="948.9" r="7.4"/><circle cx="982.2" cy="957.8" r="7.4"/><circle cx="1070.4" cy="861.5" r="7.4"/><circle cx="1066.4" cy="885.9" r="7.4"/><circle cx="1112.3" cy="888.6" r="7.4"/><circle cx="1140" cy="881.2" r="7.4"/><circle cx="1084.9" cy="928.1" r="7.4"/><circle cx="1040.7" cy="965.9" r="7.4"/><circle cx="1025.2" cy="978.1" r="7.4"/><circle cx="1068.6" cy="964.1" r="7.4"/><circle cx="1072.6" cy="974.1" r="7.4"/><circle cx="1070.4" cy="980" r="7.4"/><circle cx="1100" cy="963" r="7.4"/><circle cx="1062.2" cy="985.9" r="7.4"/><circle cx="1060.7" cy="994.1" r="7.4"/><circle cx="1062.2" cy="994.8" r="7.4"/><circle cx="1055.6" cy="1001.5" r="7.4"/><circle cx="1095.9" cy="988.1" r="7.4"/><circle cx="1087.1" cy="1001.5" r="7.4"/><circle cx="1121.5" cy="975.1" r="7.4"/><circle cx="1124.4" cy="994.1" r="7.4"/><circle cx="1130.8" cy="987.4" r="7.4"/><circle cx="1153.3" cy="979.3" r="7.4"/><circle cx="1148.9" cy="993.3" r="7.4"/><circle cx="1157.8" cy="991.9" r="7.4"/><circle cx="1142.2" cy="1000.7" r="7.4"/><circle cx="1109.6" cy="1005.9" r="7.4"/><circle cx="1074.1" cy="1006.7" r="7.4"/><circle cx="1068.1" cy="1011.1" r="7.4"/><circle cx="1057.8" cy="1015.6" r="7.4"/><circle cx="1088.1" cy="1016.3" r="7.4"/><circle cx="1000" cy="1011.6" r="7.4"/><circle cx="1194.5" cy="960.3" r="7.4"/><circle cx="1181.2" cy="975.1" r="7.4"/><circle cx="1174.8" cy="997.8" r="7.4"/><circle cx="1181.9" cy="1003.3" r="7.4"/><circle cx="1167.4" cy="1010.4" r="7.4"/><circle cx="978.5" cy="1024.8" r="7.4"/><circle cx="942.1" cy="1058.1" r="7.4"/><circle cx="901.4" cy="1072.5" r="7.4"/><circle cx="863.6" cy="1084.1" r="7.4"/><circle cx="895.2" cy="1089.3" r="7.4"/><circle cx="892.5" cy="1098.9" r="7.4"/><circle cx="901.4" cy="1098.9" r="7.4"/><circle cx="919.9" cy="1101.1" r="7.4"/><circle cx="925.4" cy="1099.6" r="7.4"/><circle cx="898.4" cy="1115.2" r="7.4"/><circle cx="902.9" cy="1112.2" r="7.4"/><circle cx="913" cy="1111.5" r="7.4"/><circle cx="919.2" cy="1117" r="7.4"/><circle cx="937.7" cy="1114.4" r="7.4"/><circle cx="967.3" cy="1105.6" r="7.4"/><circle cx="836.2" cy="1124.8" r="7.4"/><circle cx="930.3" cy="1140.7" r="7.4"/><circle cx="917.7" cy="1151.5" r="7.4"/><circle cx="935.5" cy="1169.3" r="7.4"/><circle cx="941.9" cy="1165.9" r="7.4"/><circle cx="954.4" cy="1169.7" r="7.4"/><circle cx="967.3" cy="1175.9" r="7.4"/><circle cx="982.2" cy="1041.9" r="7.4"/><circle cx="981.9" cy="1046.3" r="7.4"/><circle cx="986.7" cy="1054.4" r="7.4"/><circle cx="982.5" cy="1058.9" r="7.4"/><circle cx="1001.5" cy="1058.6" r="7.4"/><circle cx="1025.6" cy="1038.1" r="7.4"/><circle cx="1078.5" cy="1026.3" r="7.4"/><circle cx="1063" cy="1030" r="7.4"/><circle cx="1053.3" cy="1034.4" r="7.4"/><circle cx="1084.7" cy="1038.1" r="7.4"/><circle cx="1125.2" cy="1026.3" r="7.4"/><circle cx="1121.5" cy="1030.7" r="7.4"/><circle cx="1052.6" cy="1058.9" r="7.4"/><circle cx="990.4" cy="1074" r="7.4"/><circle cx="1008.9" cy="1075.9" r="7.4"/><circle cx="1001.5" cy="1084.1" r="7.4"/><circle cx="1005.9" cy="1087" r="7.4"/><circle cx="1000" cy="1091.5" r="7.4"/><circle cx="989.6" cy="1094.1" r="7.4"/><circle cx="1007.4" cy="1095.2" r="7.4"/><circle cx="1003" cy="1101.9" r="7.4"/><circle cx="1011.9" cy="1102.6" r="7.4"/><circle cx="1015.6" cy="1111.5" r="7.4"/><circle cx="1021.5" cy="1114.4" r="7.4"/><circle cx="1004.4" cy="1115.9" r="7.4"/><circle cx="994.1" cy="1123.3" r="7.4"/><circle cx="1003.7" cy="1123.3" r="7.4"/><circle cx="1043.7" cy="1087" r="7.4"/><circle cx="1053.6" cy="1104.8" r="7.4"/><circle cx="1090.1" cy="1073.7" r="7.4"/><circle cx="1101.5" cy="1083.6" r="7.4"/><circle cx="1117" cy="1075.2" r="7.4"/><circle cx="1125.2" cy="1080.8" r="7.4"/><circle cx="1116.3" cy="1083.6" r="7.4"/><circle cx="1133.6" cy="1064.8" r="7.4"/><circle cx="1079.7" cy="1095.6" r="7.4"/><circle cx="1086.7" cy="1101.9" r="7.4"/><circle cx="1076.6" cy="1111" r="7.4"/><circle cx="1077" cy="1131.5" r="7.4"/><circle cx="1084.4" cy="1131.5" r="7.4"/><circle cx="1059" cy="1138.6" r="7.4"/><circle cx="988.1" cy="1139.6" r="7.4"/><circle cx="1008.6" cy="1145.1" r="7.4"/><circle cx="1010.8" cy="1151.5" r="7.4"/><circle cx="1009.6" cy="1161.1" r="7.4"/><circle cx="1027.1" cy="1143.6" r="7.4"/><circle cx="1062.2" cy="1170.3" r="7.4"/><circle cx="1075.1" cy="1174.9" r="7.4"/><circle cx="988.1" cy="1173.4" r="7.4"/><circle cx="1011.1" cy="1185.6" r="7.4"/><circle cx="957.7" cy="1188.5" r="7.4"/><circle cx="1024.4" cy="1197.4" r="7.4"/><circle cx="1030.3" cy="1201" r="7.4"/><circle cx="1042.1" cy="1196.8" r="7.4"/><circle cx="1043.6" cy="1201" r="7.4"/><circle cx="1055.5" cy="1195.9" r="7.4"/><circle cx="1035.3" cy="1218.1" r="7.4"/><circle cx="997.7" cy="1222.6" r="7.4"/><circle cx="998.3" cy="1225.6" r="7.4"/><circle cx="985" cy="1238.9" r="7.4"/><circle cx="992.7" cy="1239.8" r="7.4"/><circle cx="1015.5" cy="1242.7" r="7.4"/><circle cx="991.8" cy="1252.8" r="7.4"/><circle cx="1010.1" cy="1252.8" r="7.4"/><circle cx="955.3" cy="1255.2" r="7.4"/><circle cx="955.3" cy="1262" r="7.4"/></g>
</g>
<path d="M774.40 1295.60v-10.5M774.40 814.90v10.5" stroke="#000" stroke-width="1.4"/>
<text x="775.00" y="1327.30" font-size="30.5" text-anchor="middle">0</text>
<path d="M836.68 1295.60v-10.5M836.68 814.90v10.5" stroke="#000" stroke-width="1.4"/>
<text x="837.28" y="1327.30" font-size="30.5" text-anchor="middle">10</text>
<path d="M898.96 1295.60v-10.5M898.96 814.90v10.5" stroke="#000" stroke-width="1.4"/>
<text x="899.56" y="1327.30" font-size="30.5" text-anchor="middle">20</text>
<path d="M961.23 1295.60v-10.5M961.23 814.90v10.5" stroke="#000" stroke-width="1.4"/>
<text x="961.83" y="1327.30" font-size="30.5" text-anchor="middle">30</text>
<path d="M1023.51 1295.60v-10.5M1023.51 814.90v10.5" stroke="#000" stroke-width="1.4"/>
<text x="1024.11" y="1327.30" font-size="30.5" text-anchor="middle">40</text>
<path d="M1085.79 1295.60v-10.5M1085.79 814.90v10.5" stroke="#000" stroke-width="1.4"/>
<text x="1086.39" y="1327.30" font-size="30.5" text-anchor="middle">50</text>
<path d="M1148.07 1295.60v-10.5M1148.07 814.90v10.5" stroke="#000" stroke-width="1.4"/>
<text x="1148.67" y="1327.30" font-size="30.5" text-anchor="middle">60</text>
<path d="M1210.34 1295.60v-10.5M1210.34 814.90v10.5" stroke="#000" stroke-width="1.4"/>
<text x="1210.94" y="1327.30" font-size="30.5" text-anchor="middle">70</text>
<path d="M1272.62 1295.60v-10.5M1272.62 814.90v10.5" stroke="#000" stroke-width="1.4"/>
<text x="1273.22" y="1327.30" font-size="30.5" text-anchor="middle">80</text>
<path d="M1334.90 1295.60v-10.5M1334.90 814.90v10.5" stroke="#000" stroke-width="1.4"/>
<text x="1335.50" y="1327.30" font-size="30.5" text-anchor="middle">90</text>
<path d="M774.40 1295.60h10.5M1334.90 1295.60h-10.5" stroke="#000" stroke-width="1.4"/>
<text x="765.40" y="1303.60" font-size="30.5" text-anchor="end">0</text>
<path d="M774.40 1242.19h10.5M1334.90 1242.19h-10.5" stroke="#000" stroke-width="1.4"/>
<text x="765.40" y="1250.19" font-size="30.5" text-anchor="end">10</text>
<path d="M774.40 1188.78h10.5M1334.90 1188.78h-10.5" stroke="#000" stroke-width="1.4"/>
<text x="765.40" y="1196.78" font-size="30.5" text-anchor="end">20</text>
<path d="M774.40 1135.37h10.5M1334.90 1135.37h-10.5" stroke="#000" stroke-width="1.4"/>
<text x="765.40" y="1143.37" font-size="30.5" text-anchor="end">30</text>
<path d="M774.40 1081.96h10.5M1334.90 1081.96h-10.5" stroke="#000" stroke-width="1.4"/>
<text x="765.40" y="1089.96" font-size="30.5" text-anchor="end">40</text>
<path d="M774.40 1028.54h10.5M1334.90 1028.54h-10.5" stroke="#000" stroke-width="1.4"/>
<text x="765.40" y="1036.54" font-size="30.5" text-anchor="end">50</text>
<path d="M774.40 975.13h10.5M1334.90 975.13h-10.5" stroke="#000" stroke-width="1.4"/>
<text x="765.40" y="983.13" font-size="30.5" text-anchor="end">60</text>
<path d="M774.40 921.72h10.5M1334.90 921.72h-10.5" stroke="#000" stroke-width="1.4"/>
<text x="765.40" y="929.72" font-size="30.5" text-anchor="end">70</text>
<path d="M774.40 868.31h10.5M1334.90 868.31h-10.5" stroke="#000" stroke-width="1.4"/>
<text x="765.40" y="876.31" font-size="30.5" text-anchor="end">80</text>
<path d="M774.40 814.90h10.5M1334.90 814.90h-10.5" stroke="#000" stroke-width="1.4"/>
<text x="765.40" y="822.90" font-size="30.5" text-anchor="end">90</text>
<text x="1054.65" y="802.90" font-size="37.2" text-anchor="middle">SHmax relative to fault (degree)</text>
<text x="1054.65" y="1371.60" font-size="37.2" text-anchor="middle">Obs. from focal mechanism</text>
<text x="836.10" y="1423.60" font-size="37.2" style="fill:#0000ff" xml:space="preserve">cc: 0.33    pval: + 0.000</text>
<text x="712.90" y="783.10" font-size="48" font-weight="bold">d</text>
<rect x="774.40" y="814.90" width="560.50" height="480.70" fill="none" stroke="#000" stroke-width="2.7"/>
<rect x="1166.20" y="1229.30" width="153.40" height="51.50" fill="#fff" stroke="#000" stroke-width="2.7"/>
<path d="M1185.10 1252.00H1229.90" stroke="#008000" stroke-width="2.6"/>
<text x="1260.70" y="1263.10" font-size="30.5">x=y</text>
</svg>
</body></html>
